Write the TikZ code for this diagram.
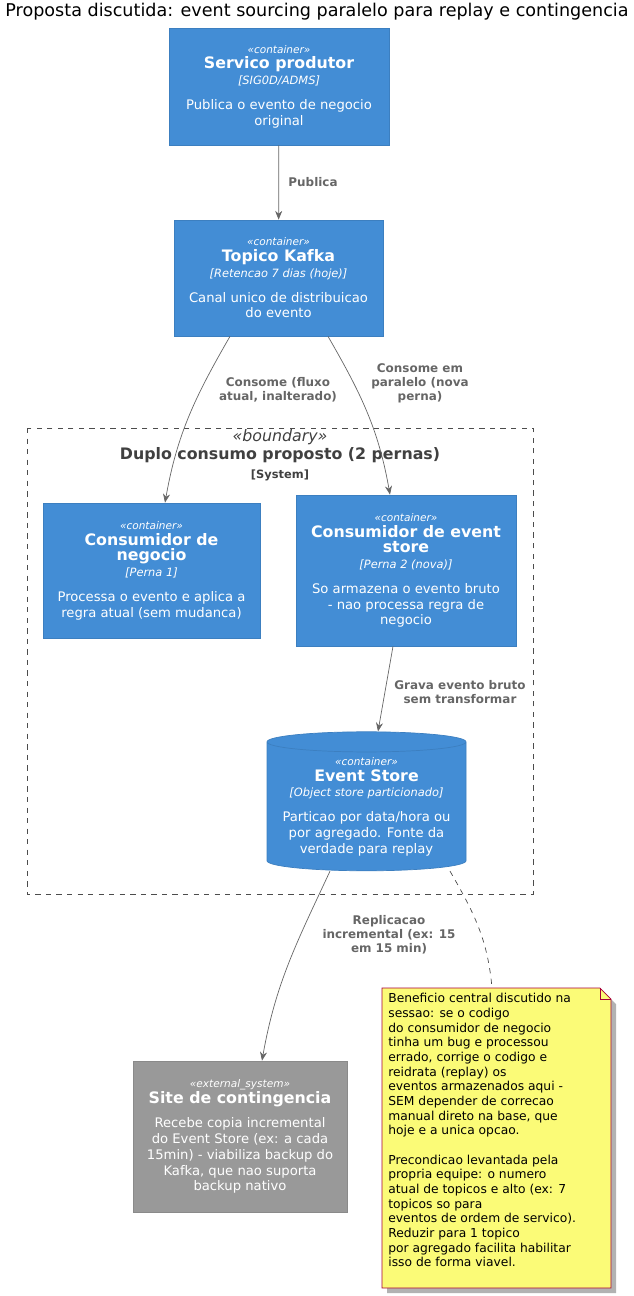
\documentclass[tikz,border=0pt]{standalone}
\usepackage{fontspec}
\setmainfont{DejaVu Sans}
\usetikzlibrary{arrows.meta,shapes.geometric,calc}
\definecolor{cblue}{HTML}{438DD5}
\definecolor{cbord}{HTML}{3C7FC0}
\definecolor{cgray}{HTML}{999999}
\definecolor{cgrayb}{HTML}{8A8A8A}
\definecolor{cnote}{HTML}{FBFB77}
\definecolor{cnoteb}{HTML}{A80036}
\definecolor{clab}{HTML}{666666}
\tikzset{
  cont/.style={draw=cbord, fill=cblue, text=white, align=center, inner sep=0pt, font=\fontsize{7.5}{9}\selectfont},
  link/.style={draw=clab, -{Stealth[length=5pt,width=4pt]}},
  lbl/.style={text=clab, font=\bfseries\fontsize{6.8}{8}\selectfont, align=center}
}
\newcommand{\stereo}[1]{{\itshape\fontsize{6}{8}\selectfont «#1»}\\}
\newcommand{\ctitle}[1]{{\bfseries\fontsize{9}{10.5}\selectfont #1}\\}
\newcommand{\ctech}[1]{{\itshape\fontsize{6.5}{8}\selectfont [#1]}\\[5pt]}
\begin{document}
\begin{tikzpicture}[x=0.02cm,y=-0.02cm]
\useasboundingbox (0,0) rectangle (634,1296);
\node[font=\fontsize{10}{12}\selectfont] (title) at (317,12) {Proposta discutida: event sourcing paralelo para replay e contingencia};
% boundary
\draw[dashed, draw=black!70] (27,428) rectangle (533,894);
\node[align=center, text=black!75, font=\fontsize{9}{10.5}\selectfont] (bnd) at (280,455)
  {{\itshape «boundary»}\\{\bfseries Duplo consumo proposto (2 pernas)}\\{\bfseries\fontsize{6.5}{8}\selectfont [System]}};
% containers
\node[cont, minimum width=220*0.02cm, minimum height=117*0.02cm] (prod) at (279,86.5)
  {\stereo{container}\ctitle{Servico produtor}\ctech{SIG0D/ADMS}Publica o evento de negocio\\original};
\node[cont, minimum width=209*0.02cm, minimum height=116*0.02cm] (kafka) at (278.5,278)
  {\stereo{container}\ctitle{Topico Kafka}\ctech{Retencao 7 dias (hoje)}Canal unico de distribuicao\\do evento};
\node[cont, minimum width=217*0.02cm, minimum height=135*0.02cm] (neg) at (151.5,570.5)
  {\stereo{container}\ctitle{Consumidor de}\ctitle{negocio}\ctech{Perna 1}Processa o evento e aplica a\\regra atual (sem mudanca)};
\node[cont, minimum width=220*0.02cm, minimum height=151*0.02cm] (evs) at (406,570.5)
  {\stereo{container}\ctitle{Consumidor de event}\ctitle{store}\ctech{Perna 2 (nova)}So armazena o evento bruto\\- nao processa regra de\\negocio};
\node[cont, cylinder, shape border rotate=90, aspect=0.12, minimum width=199*0.02cm, minimum height=139*0.02cm] (store) at (366.5,806.5)
  {\stereo{container}\ctitle{Event Store}\ctech{Object store particionado}Particao por data/hora ou\\por agregado. Fonte da\\verdade para replay};
\node[cont, draw=cgrayb, fill=cgray, minimum width=214*0.02cm, minimum height=151*0.02cm] (site) at (240,1136.5)
  {\stereo{external\_system}\ctitle{Site de contingencia}\\[-4pt]Recebe copia incremental\\do Event Store (ex: a cada\\15min) - viabiliza backup do\\Kafka, que nao suporta\\backup nativo};
% note
\fill[black!30] (387,993) -- (605,993) -- (616,1004) -- (616,1293) -- (387,1293) -- cycle;
\draw[draw=cnoteb, fill=cnote] (382,988) -- (600,988) -- (611,999) -- (611,1288) -- (382,1288) -- cycle;
\draw[draw=cnoteb] (600,988) -- (600,999) -- (611,999);
\node[anchor=north west, align=left, inner sep=0pt, font=\fontsize{7}{8.35}\selectfont] (note) at (388,993)
  {Beneficio central discutido na\\sessao: se o codigo\\do consumidor de negocio\\tinha um bug e processou\\errado, corrige o codigo e\\reidrata (replay) os\\eventos armazenados aqui -\\SEM depender de correcao\\manual direto na base, que\\hoje e a unica opcao.\\[8.35pt]Precondicao levantada pela\\propria equipe: o numero\\atual de topicos e alto (ex: 7\\topicos so para\\eventos de ordem de servico).\\Reduzir para 1 topico\\por agregado facilita habilitar\\isso de forma viavel.};
\coordinate (ntop) at (492,988);
% connectors
\draw[link] (prod) -- (kafka) node[lbl, midway, right=2pt] {Publica};
\draw[link] (kafka.south -| 230,0) to[out=-120, in=80] (neg.north -| 165,0);
\node[lbl] (l1) at (278,390) {Consome (fluxo\\atual, inalterado)};
\draw[link] (kafka.south -| 328,0) to[out=-60, in=100] (evs.north -| 390,0);
\node[lbl] (l2) at (420,383) {Consome em\\paralelo (nova\\perna)};
\draw[link] (evs.south -| 393,0) -- (store.north -| 378,0);
\node[lbl] (l3) at (460,692) {Grava evento bruto\\sem transformar};
\draw[link] (store.south -| 330,0) to[out=-115, in=80] (site.north -| 262,0);
\node[lbl] (l4) at (389,935) {Replicacao\\incremental (ex: 15\\em 15 min)};
\draw[dashed, draw=black!70] (store.south -| 450,0) to[out=-60, in=95] (ntop);
\end{tikzpicture}
\end{document}
